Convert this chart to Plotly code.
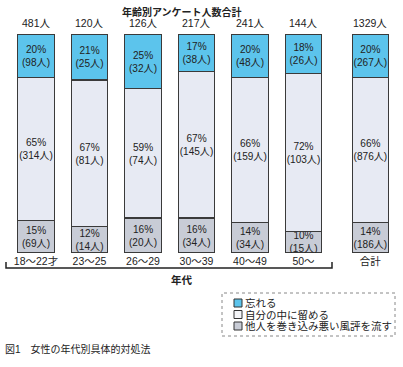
import plotly.graph_objects as go

groups = ["18〜22才", "23〜25", "26〜29", "30〜39", "40〜49", "50〜", "合計"]
totals = [481, 120, 126, 217, 241, 144, 1329]
forget_pct = [20, 21, 25, 17, 20, 18, 20]
forget_n = [98, 25, 32, 38, 48, 26, 267]
keep_pct = [65, 67, 59, 67, 66, 72, 66]
keep_n = [314, 81, 74, 145, 159, 103, 876]
spread_pct = [15, 12, 16, 16, 14, 10, 14]
spread_n = [69, 14, 20, 34, 34, 15, 186]
series_names = ["忘れる", "自分の中に留める", "他人を巻き込み悪い風評を流す"]
title_text = "年齢別アンケート人数合計"
axis_title = "年代"
caption = "図1　女性の年代別具体的対処法"

# layout positions (total bar set a bit apart)
xpos = [0, 1, 2, 3, 4, 5, 6.25]
colors = ["#5cc4ec", "#e7eaf3", "#c8ccd6"]
FONT = "Liberation Sans, Noto Sans CJK JP, sans-serif"

fig = go.Figure()
series = [
    (spread_pct, spread_n, series_names[2], colors[2]),
    (keep_pct, keep_n, series_names[1], colors[1]),
    (forget_pct, forget_n, series_names[0], colors[0]),
]
for pct, n, name, col in series:
    fig.add_trace(go.Bar(
        x=xpos, y=pct, name=name, width=0.68,
        marker=dict(color=col, line=dict(color="#3a3a3a", width=1.2)),
        text=[f"{p}%<br>({k}人)" for p, k in zip(pct, n)],
        textposition="inside", insidetextanchor="middle", textangle=0,
        textfont=dict(size=10.5, color="#222", family=FONT),
        showlegend=False,
    ))

for x, t in zip(xpos, totals):
    fig.add_annotation(x=x, y=100, xref="x", yref="y", text=f"{t}人",
                       showarrow=False, yanchor="bottom", yshift=3,
                       font=dict(size=10.5, color="#222", family=FONT))

W, H = 403, 367
top, bottom = 34, 253
ph = bottom - top

def py(pix):
    return (bottom - pix) / ph

def note(xp, yp, text, size, xanchor="center"):
    fig.add_annotation(x=xp / W, y=py(yp), xref="paper", yref="paper", text=text,
                       showarrow=False, xanchor=xanchor, yanchor="middle",
                       font=dict(size=size, color="#222", family=FONT))

note(182, 12, f"<b>{title_text}</b>", 10)
note(182, 280, f"<b>{axis_title}</b>", 10.5)
note(3, 349, caption, 10, xanchor="left")

# bracket under age groups
fig.add_shape(type="path", xref="paper", yref="paper",
              path=f"M {6/W},{py(262)} L {6/W},{py(268)} L {332/W},{py(268)} L {332/W},{py(262)}",
              line=dict(color="#222", width=1.5))

# legend box
fig.add_shape(type="rect", xref="paper", yref="paper",
              x0=222 / W, x1=395 / W, y0=py(336), y1=py(293),
              line=dict(color="#888", width=1, dash="dot"))
leg_y = [303, 314.5, 326]
leg_colors = [colors[0], "#f4f5f8", colors[2]]
for name, col, yy in zip(series_names, leg_colors, leg_y):
    fig.add_shape(type="rect", xref="paper", yref="paper",
                  x0=234 / W, x1=242 / W, y0=py(yy + 4), y1=py(yy - 4),
                  fillcolor=col, line=dict(color="#333", width=1))
    note(243, yy, name, 10.5, xanchor="left")

fig.update_layout(
    width=W, height=H, barmode="stack",
    margin=dict(l=0, r=0, t=top, b=H - bottom),
    paper_bgcolor="white", plot_bgcolor="white",
    uniformtext=dict(minsize=10, mode="show"),
    font=dict(family=FONT),
    xaxis=dict(range=[-0.673, 6.86], tickvals=xpos, ticktext=groups, ticks="",
               showgrid=False, zeroline=False, showline=False,
               tickfont=dict(size=10.5, color="#222", family=FONT)),
    yaxis=dict(range=[0, 100], visible=False),
)

fig.write_html("out.html", config={"displayModeBar": False},
               post_script="document.body.style.margin='0';document.body.style.overflow='hidden';")
